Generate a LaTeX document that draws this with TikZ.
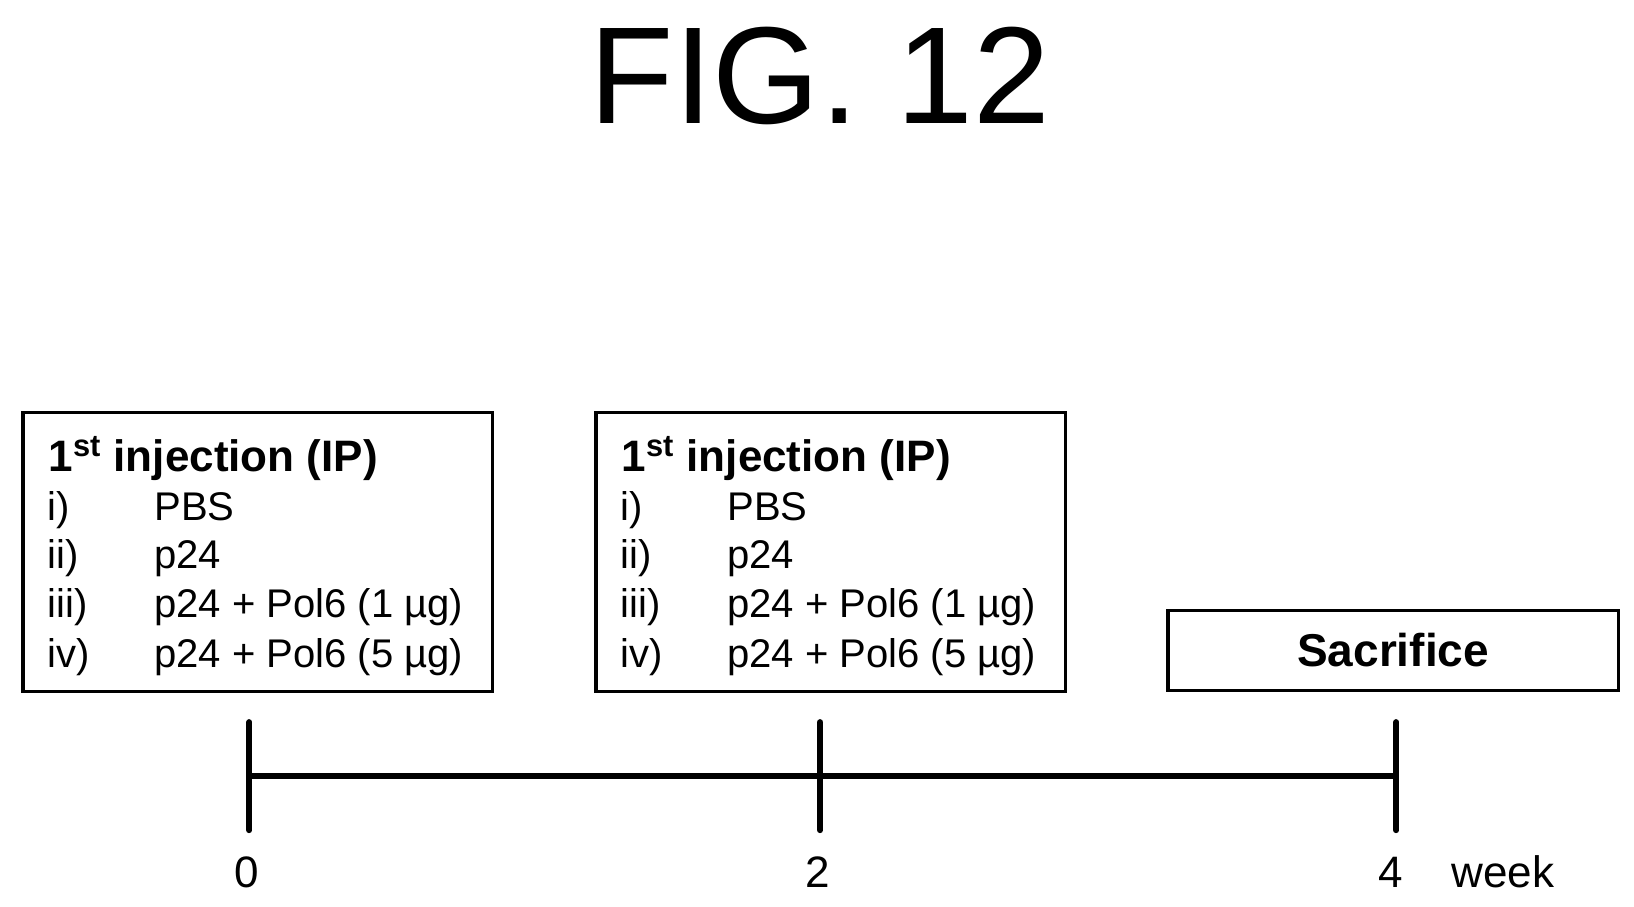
\documentclass[tikz,border=0pt]{standalone}
\usepackage{fontspec}
\setmainfont{Liberation Sans}
\usetikzlibrary{positioning}

\tikzset{
    panel/.style = {draw, line width = 1.6pt, minimum width = 448*0.5235pt,
        minimum height = 266*0.5235pt, inner sep = 0pt},
    item/.style = {anchor = base west, inner sep = 0pt, font = \fontsize{20}{22}\selectfont},
    head/.style = {anchor = base west, inner sep = 0pt, font = \fontsize{22}{24}\selectfont\bfseries},
    tick/.style = {line width = 3pt, line cap = round},
    ticklabel/.style = {anchor = base, inner sep = 0pt, font = \fontsize{22}{24}\selectfont},
}

\begin{document}
\begin{tikzpicture}[x = 0.5235pt, y = -0.5235pt]

    \useasboundingbox (0,0) rectangle (1560,865);

    \node[inner sep = 0pt, anchor = base, font = \fontsize{69}{72}\selectfont] (title) at (783,118) {FIG. 12};

    % two injection panels
    \foreach \name/\dx in {first/0, second/547}{
        \node[panel] (\name) at (246+\dx,527) {};
        \node[head] (\name head) at (46+\dx,450) {1\textsuperscript{st} injection (IP)};
        \foreach \num/\txt/\yy in {i)/PBS/497, ii)/p24/543, iii)/p24 + Pol6 (1 µg)/590, iv)/p24 + Pol6 (5 µg)/637}{
            \node[item] at (45+\dx,\yy) {\num};
            \node[item] at (147+\dx,\yy) {\txt};
        }
    }

    \node[draw, line width = 1.6pt, minimum width = 430*0.5235pt, minimum height = 77*0.5235pt,
        font = \fontsize{23}{25}\selectfont\bfseries] (sacrifice) at (1330,621) {Sacrifice};

    % time axis
    \coordinate (t0) at (238,741);
    \coordinate (t2) at (783,741);
    \coordinate (t4) at (1333,741);
    \draw[line width = 3pt] (t0) -- (t4);
    \foreach \T in {t0, t2, t4}
        \draw[tick] ([yshift = 27pt]\T) -- ([yshift = -27pt]\T);

    \node[ticklabel] (l0) at (236,847) {0};
    \node[ticklabel] (l2) at (781,847) {2};
    \node[ticklabel] (l4) at (1328,847) {4};
    \node[ticklabel] (week) at (1435,847) {week};

\end{tikzpicture}
\end{document}
